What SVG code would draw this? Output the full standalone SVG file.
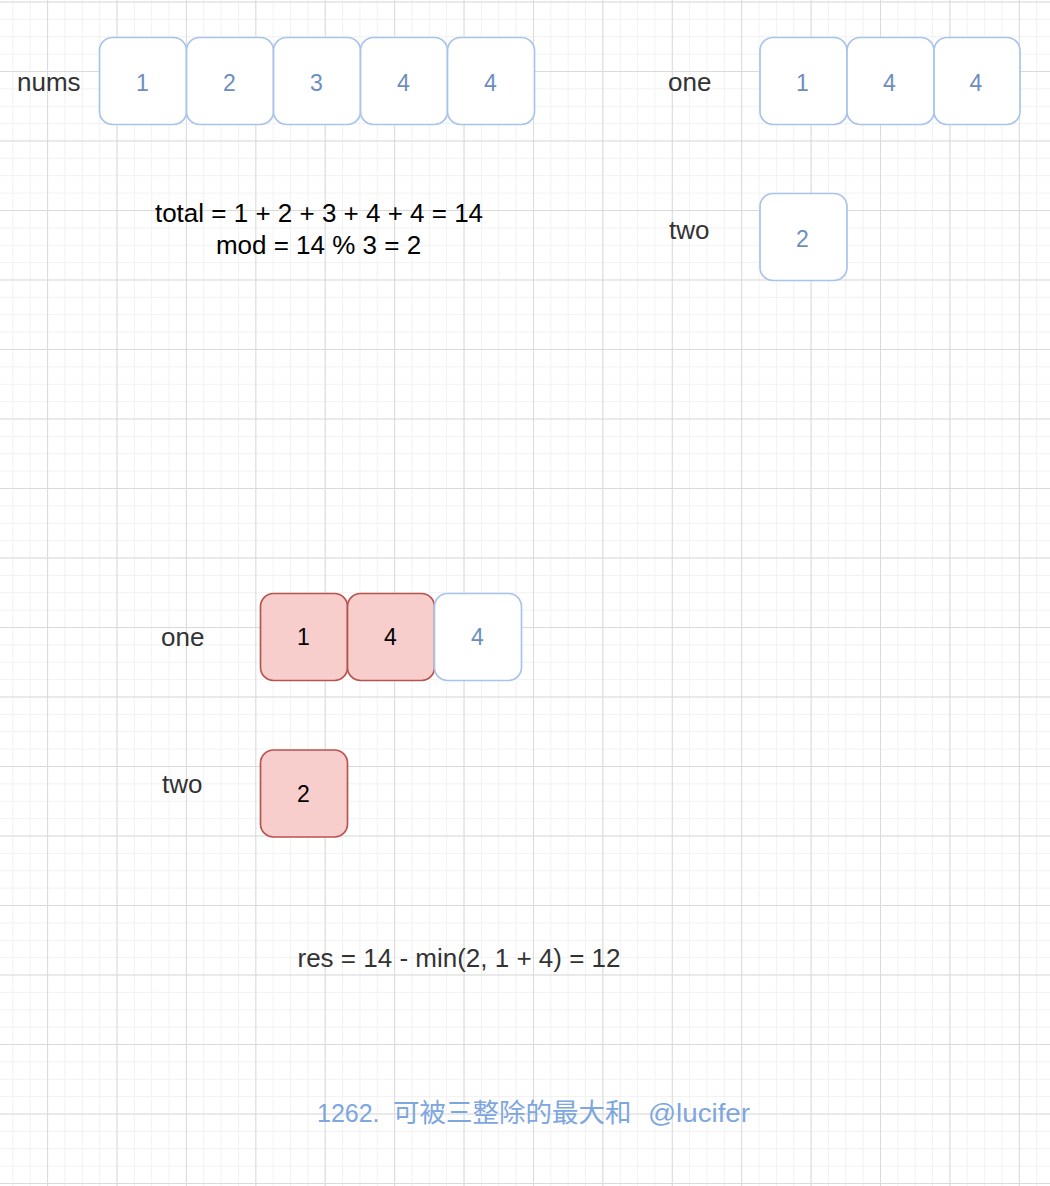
<svg xmlns="http://www.w3.org/2000/svg" width="1050" height="1186" viewBox="0 0 1050 1186">
  <defs>
    <pattern id="minor" patternUnits="userSpaceOnUse" x="47.09" y="1.5" width="17.3525" height="17.375">
      <rect x="0" y="0" width="1" height="17.375" fill="#f1f1f1"/>
      <rect x="0" y="0" width="17.3525" height="1" fill="#f1f1f1"/>
    </pattern>
    <pattern id="major" patternUnits="userSpaceOnUse" x="47.09" y="1.5" width="69.41" height="69.5">
      <rect x="0" y="0" width="1" height="69.5" fill="#dadada"/>
      <rect x="0" y="0" width="69.41" height="1" fill="#dadada"/>
    </pattern>
  </defs>
  <style>
    .lbl { font-family: "Liberation Sans", Arial, Helvetica, sans-serif; font-size: 26px; fill: #333333; }
    .eq { font-family: "Liberation Sans", Arial, Helvetica, sans-serif; font-size: 26px; fill: #000000; text-anchor: middle; }
    .box { fill: #ffffff; stroke: #a9c4eb; stroke-width: 1.7; }
    .red { fill: #f8cecc; stroke: #b85450; stroke-width: 1.7; }
    .bt { font-family: "Liberation Sans", Arial, Helvetica, sans-serif; font-size: 23px; fill: #6c8ebf; text-anchor: middle; }
    .rt { font-family: "Liberation Sans", Arial, Helvetica, sans-serif; font-size: 23px; fill: #000000; text-anchor: middle; }
    .title { font-family: "Liberation Sans", "Noto Sans CJK SC", sans-serif; fill: #7ea6e0; }
  </style>
  <rect width="1050" height="1186" fill="#ffffff"/>
  <rect width="1050" height="1186" fill="url(#minor)"/>
  <rect width="1050" height="1186" fill="url(#major)"/>

  <g id="connectors"/>

  <g id="label-nums"><text class="lbl" x="17" y="90.5">nums</text></g>
  <g id="nums-0"><rect class="box" x="99.5" y="37.5" width="87" height="87" rx="13"/><text class="bt" x="142.5" y="90.5">1</text></g>
  <g id="nums-1"><rect class="box" x="186.5" y="37.5" width="87" height="87" rx="13"/><text class="bt" x="229.5" y="90.5">2</text></g>
  <g id="nums-2"><rect class="box" x="273.5" y="37.5" width="87" height="87" rx="13"/><text class="bt" x="316.5" y="90.5">3</text></g>
  <g id="nums-3"><rect class="box" x="360.5" y="37.5" width="87" height="87" rx="13"/><text class="bt" x="403.5" y="90.5">4</text></g>
  <g id="nums-4"><rect class="box" x="447.5" y="37.5" width="87" height="87" rx="13"/><text class="bt" x="490.5" y="90.5">4</text></g>

  <g id="label-one-top"><text class="lbl" x="668" y="91">one</text></g>
  <g id="one-top-0"><rect class="box" x="760" y="37.5" width="87" height="87" rx="13"/><text class="bt" x="802.5" y="90.5">1</text></g>
  <g id="one-top-1"><rect class="box" x="847" y="37.5" width="87" height="87" rx="13"/><text class="bt" x="889.5" y="90.5">4</text></g>
  <g id="one-top-2"><rect class="box" x="934" y="37.5" width="86" height="87" rx="13"/><text class="bt" x="976" y="90.5">4</text></g>

  <g id="label-two-top"><text class="lbl" x="669" y="239">two</text></g>
  <g id="two-top-0"><rect class="box" x="760" y="193.5" width="87" height="87" rx="13"/><text class="bt" x="802.5" y="246.5">2</text></g>

  <g id="calc">
    <text class="eq" x="319" y="222">total = 1 + 2 + 3 + 4 + 4 = 14</text>
    <text class="eq" x="318.5" y="254">mod = 14 % 3 = 2</text>
  </g>

  <g id="label-one-bottom"><text class="lbl" x="161" y="645.5">one</text></g>
  <g id="one-bottom-0"><rect class="red" x="260.5" y="593.5" width="87" height="87" rx="13"/><text class="rt" x="303.5" y="645">1</text></g>
  <g id="one-bottom-1"><rect class="red" x="347.5" y="593.5" width="87" height="87" rx="13"/><text class="rt" x="390.5" y="645">4</text></g>
  <g id="one-bottom-2"><rect class="box" x="434.5" y="593.5" width="87" height="87" rx="13"/><text class="bt" x="477.5" y="645">4</text></g>

  <g id="label-two-bottom"><text class="lbl" x="162" y="793">two</text></g>
  <g id="two-bottom-0"><rect class="red" x="260.5" y="750" width="87" height="87" rx="13"/><text class="rt" x="303.5" y="802">2</text></g>

  <g id="result"><text class="lbl" x="459" y="967" text-anchor="middle">res = 14 - min(2, 1 + 4) = 12</text></g>

  <g id="title">
    <text class="title" y="1122"><tspan x="317" font-size="25">1262.</tspan><tspan x="393" font-size="26.5">可被三整除的最大和</tspan><tspan x="648" font-size="26" textLength="102" lengthAdjust="spacingAndGlyphs">@lucifer</tspan></text>
  </g>
</svg>
